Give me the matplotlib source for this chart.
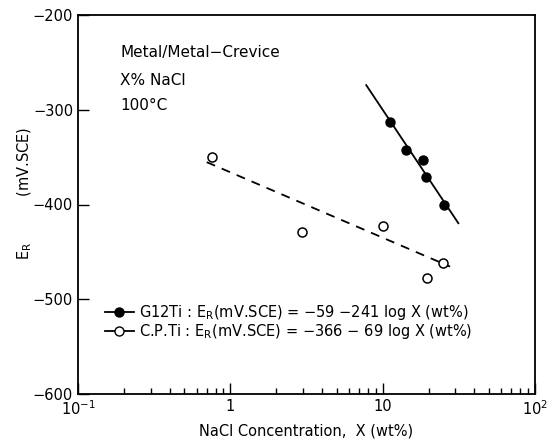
import numpy as np
import matplotlib
matplotlib.use("Agg")
import matplotlib.pyplot as plt
from matplotlib.ticker import LogLocator, NullFormatter

# G12Ti data (filled circles)
g12_x = [11.2, 14.2, 18.3, 19.3, 25.3]
g12_e = [-313, -342, -353, -371, -401]
# C.P.Ti data (open circles)
cp_x = [0.76, 2.94, 10.0, 19.5, 25.0]
cp_e = [-350, -429, -423, -478, -462]

# fitted lines: E = a + b log X
g12_fit = (-59, -241)
cp_fit = (-366, -69)
g12_range = [7.8, 31.4]
cp_range = [0.70, 27.7]

yticks = [-200, -300, -400, -500, -600]

plt.rcParams['font.family'] = ['DejaVu Sans']
fig = plt.figure(figsize=(5.56, 4.46), dpi=100)
ax = fig.add_axes([78/556, 1-394/446, (535-78)/556, (394-15)/446])

xs = np.logspace(np.log10(g12_range[0]), np.log10(g12_range[1]), 50)
ax.plot(xs, g12_fit[0] + g12_fit[1]*np.log10(xs), color='black', lw=1.3)
xs = np.logspace(np.log10(cp_range[0]), np.log10(cp_range[1]), 50)
ax.plot(xs, cp_fit[0] + cp_fit[1]*np.log10(xs), color='black', lw=1.3, ls=(0, (5, 4)))

ax.plot(g12_x, g12_e, 'o', color='black', ms=6.5, ls='none')
ax.plot(cp_x, cp_e, 'o', mfc='white', mec='black', mew=1.1, ms=6.5, ls='none')

# legend handles
h1, = ax.plot([], [], '-o', color='black', ms=6.5, lw=1.3)
h2, = ax.plot([], [], '-o', color='black', mfc='white', ms=6.5, lw=1.3)
ax.legend([h1, h2],
          [r"G12Ti : $\mathregular{E_R}$(mV.SCE) = $-$59 $-$241 log X (wt%)",
           r"C.P.Ti : $\mathregular{E_R}$(mV.SCE) = $-$366 $-$ 69 log X (wt%)"],
          loc='center left', bbox_to_anchor=(0.058, 0.19), frameon=False,
          handlelength=2.0, handletextpad=0.35, fontsize=10.5, labelspacing=0.0,
          borderaxespad=0, borderpad=0)

ax.set_xscale('log')
ax.set_xlim(0.1, 100)
ax.set_ylim(-600, -200)
ax.set_xticks([0.1, 1, 10, 100])
ax.set_xticklabels([r'$10^{-1}$', '1', '10', r'$10^{2}$'])
ax.xaxis.set_minor_locator(LogLocator(base=10, subs=np.arange(2, 10)))
ax.xaxis.set_minor_formatter(NullFormatter())
ax.set_yticks(yticks)
ax.set_yticklabels(['\u2212%d' % abs(v) for v in yticks])
ax.tick_params(which='major', direction='in', length=8, width=1, labelsize=10.5,
               top=False, right=False)
ax.tick_params(which='minor', direction='in', length=4, width=1, top=False, right=False)
for s in ax.spines.values():
    s.set_linewidth(1.3)

ax.set_xlabel('NaCl Concentration,  X (wt%)', fontsize=10.5)
ax.set_ylabel(r'$\mathregular{E_R}$          (mV.SCE)', fontsize=10.5)
ax.yaxis.set_label_coords(-0.097, 0.53)

ax.text(0.092, 0.90, 'Metal/Metal\u2212Crevice', transform=ax.transAxes, fontsize=11, va='center')
ax.text(0.092, 0.827, 'X% NaCl', transform=ax.transAxes, fontsize=11, va='center')
ax.text(0.092, 0.762, '100\u00b0C', transform=ax.transAxes, fontsize=11, va='center')

fig.savefig('out.png', dpi=100)
